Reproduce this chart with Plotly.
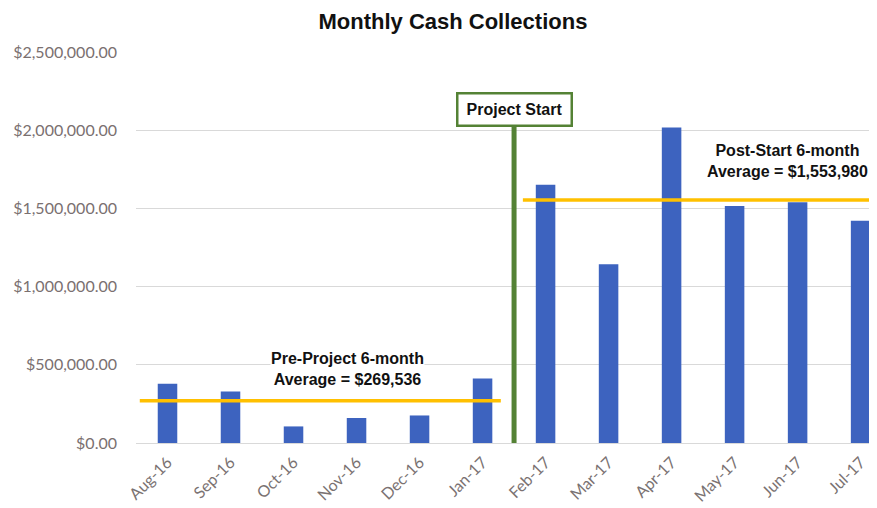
import plotly.graph_objects as go

months = ["Aug-16", "Sep-16", "Oct-16", "Nov-16", "Dec-16", "Jan-17",
          "Feb-17", "Mar-17", "Apr-17", "May-17", "Jun-17", "Jul-17"]
collections = [378600, 329000, 106000, 160000, 176000, 412000,
               1651000, 1143000, 2017000, 1515000, 1540000, 1421000]
pre_avg = 269536
post_avg = 1553980
project_start_label = "Project Start"
pre_label = "Pre-Project 6-month<br>Average = $269,536"
post_label = "Post-Start 6-month<br>Average = $1,553,980"
y_ticks = [0, 500000, 1000000, 1500000, 2000000, 2500000]

x_idx = list(range(len(months)))

fig = go.Figure()
fig.add_trace(go.Bar(
    x=x_idx, y=collections, width=0.31,
    marker=dict(color="#3d63bf", line=dict(width=0)),
    hoverinfo="skip",
))

# average lines
fig.add_shape(type="line", x0=-0.44, x1=5.29, y0=pre_avg, y1=pre_avg,
              xref="x", yref="y", line=dict(color="#FFC000", width=3.5))
fig.add_shape(type="line", x0=5.64, x1=11.3, y0=post_avg, y1=post_avg,
              xref="x", yref="y", line=dict(color="#FFC000", width=3.5))
# project start line
fig.add_shape(type="line", x0=5.5, x1=5.5, y0=0, y1=2130000,
              xref="x", yref="y", line=dict(color="#548235", width=5))

fig.add_annotation(x=5.5, y=2133000, xref="x", yref="y", text="<b>" + project_start_label + "</b>",
                   showarrow=False, font=dict(family="Liberation Sans, Arial", size=16, color="#111111"),
                   bgcolor="white", bordercolor="#548235", borderwidth=2.5, borderpad=6,
                   width=100, height=18)
fig.add_annotation(x=2.85, y=474000, xref="x", yref="y", text="<b>" + pre_label + "</b>",
                   showarrow=False, font=dict(family="Liberation Sans, Arial", size=16, color="#111111"),
                   bgcolor="white", borderpad=0)
fig.add_annotation(x=9.84, y=1805000, xref="x", yref="y", text="<b>" + post_label + "</b>",
                   showarrow=False, font=dict(family="Liberation Sans, Arial", size=16, color="#111111"),
                   bgcolor="white", borderpad=0)

fig.update_layout(
    width=869, height=500,
    margin=dict(l=128, r=0, t=44, b=65, autoexpand=False),
    paper_bgcolor="white", plot_bgcolor="white",
    showlegend=False,
    title=dict(text="<b>Monthly Cash Collections</b>", x=0.512, xanchor="center",
               y=0.974, yanchor="middle",
               font=dict(family="Liberation Sans Narrow, Liberation Sans, Arial", size=22, color="#111111")),
    xaxis=dict(
        tickmode="array", tickvals=x_idx, ticktext=months,
        range=[-0.5, 11.26], tickangle=-45,
        tickfont=dict(family="Lato", size=16, color="#7a7272"),
        showgrid=False, zeroline=False, showline=False, ticks="",
        ticklabelstandoff=6,
        automargin=False,
    ),
    yaxis=dict(
        range=[0, 2500000], tickvals=y_ticks,
        tickformat="$,.2f",
        tickfont=dict(family="Lato", size=16, color="#7a7070"),
        showgrid=True, gridcolor="#d9d9d9", gridwidth=1,
        zeroline=True, zerolinecolor="#d9d9d9", zerolinewidth=1,
        showline=False, ticks="", ticklabelstandoff=18,
        automargin=False,
    ),
)

fig.write_html("out.html")
